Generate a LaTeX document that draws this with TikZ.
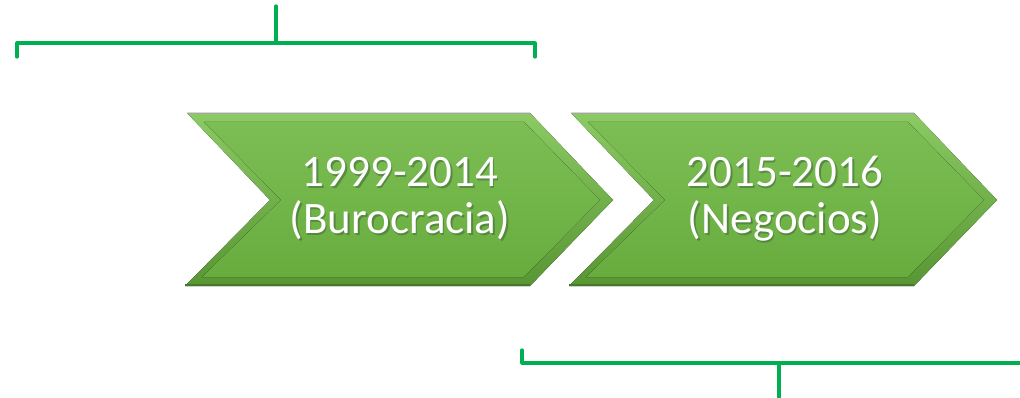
\documentclass[tikz,border=0pt]{standalone}
\usepackage{fontspec}
\setmainfont{Carlito}
\definecolor{brk}{RGB}{0,176,80}
\definecolor{chtop}{RGB}{140,202,100}
\definecolor{chbot}{RGB}{88,150,52}
\definecolor{intop}{RGB}{124,190,84}
\definecolor{inbot}{RGB}{104,172,62}
\definecolor{txtsh}{RGB}{70,110,60}
\tikzset{
  bracket/.style={draw=brk, line width=3.2pt, line join=round, line cap=round},
  outerch/.style={top color=chtop, bottom color=chbot, draw=none},
  innerch/.style={top color=intop, bottom color=inbot, draw=none},
  label/.style={text=white, align=center, font=\fontsize{45}{47}\selectfont, inner sep=0pt},
  shadowlabel/.style={text=txtsh, align=center, font=\fontsize{45}{47}\selectfont, inner sep=0pt, opacity=0.6}
}
\begin{document}
\begin{tikzpicture}[x=1pt,y=-1pt]
\useasboundingbox (0,0) rectangle (1020,398);
% chevrons
\foreach \s/\n in {0/a,384/b}{
  \begin{scope}[xshift=\s pt]
    \fill[outerch] (187,113) -- (530,113) -- (613,200) -- (530,286) -- (185,286) -- (270,200) -- cycle;
    \fill[innerch] (204,122) -- (524,122) -- (600,200) -- (524,277) -- (202,277) -- (281,200) -- cycle;
    \draw[black!35, line width=1.2pt] (187,113.5) -- (530,113.5);
    \draw[chbot!80!black, line width=2pt] (185,285) -- (530,285);
  \end{scope}
}
% labels
\node[shadowlabel] (s1) at (401.5,200.5) {1999-2014\\(Burocracia)};
\node[label] (t1) at (400,199) {1999-2014\\(Burocracia)};
\node[shadowlabel] (s2) at (786.5,200.5) {2015-2016\\(Negocios)};
\node[label] (t2) at (785,199) {2015-2016\\(Negocios)};
% top bracket
\coordinate (tl) at (17,57);
\coordinate (tlc) at (17,43);
\coordinate (trc) at (535,43);
\coordinate (tr) at (535,57);
\coordinate (tm) at (276,43);
\coordinate (tt) at (276,6);
\draw[bracket] (tl) -- (tlc) -- (trc) -- (tr);
\draw[bracket] (tm) -- (tt);
% bottom bracket
\coordinate (bl) at (522,350);
\coordinate (blc) at (522,363);
\coordinate (br) at (1022,363);
\coordinate (bm) at (779,363);
\coordinate (bb) at (779,400);
\draw[bracket] (bl) -- (blc) -- (br);
\draw[bracket] (bm) -- (bb);
\end{tikzpicture}
\end{document}
